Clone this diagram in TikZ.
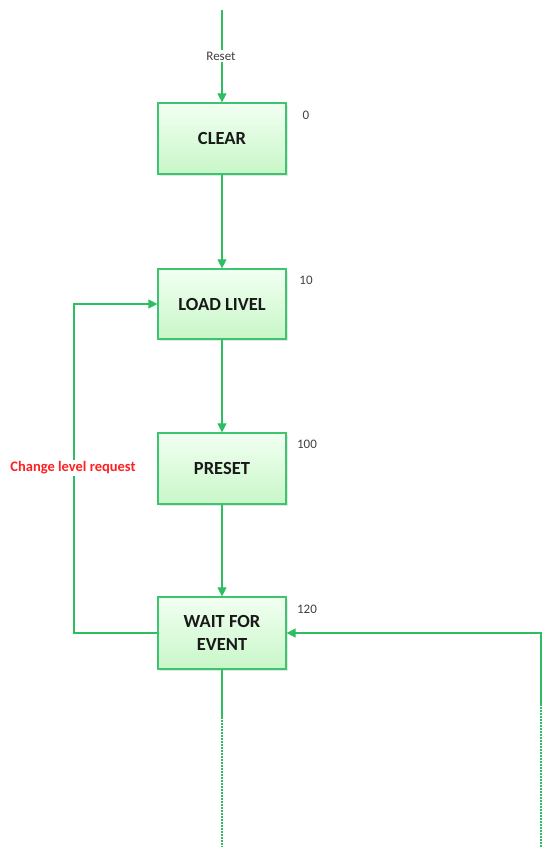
\documentclass[tikz,border=0pt]{standalone}
\usepackage{fontspec}
\setmainfont{Carlito}
\usetikzlibrary{arrows.meta,shadows}
\definecolor{lg}{HTML}{2EBE62}
\definecolor{bordg}{HTML}{3CC46E}
\definecolor{topf}{HTML}{F2FFF2}
\definecolor{botf}{HTML}{C8F7C8}
\definecolor{redl}{HTML}{FF2020}
\tikzset{
  state/.style={draw=bordg, line width=1.2pt, minimum width=128pt, minimum height=71pt,
    top color=topf, bottom color=botf, font=\fontsize{18.5}{22}\selectfont\bfseries,
    align=center, text=black!90,
    drop shadow={shadow xshift=1.5pt, shadow yshift=-1.5pt, opacity=0.25, fill=black!40}},
  conn/.style={draw=lg, line width=1.1pt},
  arr/.style={conn, -{Triangle[length=9pt,width=9pt]}},
  dots/.style={draw=lg, line width=1.1pt, dash pattern=on 1.5pt off 1.5pt},
  num/.style={font=\fontsize{13}{15}\selectfont, text=black!75, inner sep=0pt},
}
\begin{document}
\begin{tikzpicture}[x=1pt,y=-1pt]
\useasboundingbox (0,0) rectangle (542,847);
\node[state] (clear) at (222,138.5) {CLEAR};
\node[state, minimum height=70pt] (load) at (222,304) {LOAD LIVEL};
\node[state] (preset) at (222,468.5) {PRESET};
\node[state, minimum height=72pt] (wait) at (222,633) {WAIT FOR\\[1pt]EVENT};
\node[num] (n0) at (306,115) {0};
\node[num] (n10) at (306,280) {10};
\node[num] (n100) at (307,444) {100};
\node[num] (n120) at (307,609) {120};
\coordinate (top) at (222,10);
\node[font=\fontsize{13}{15}\selectfont, text=black!75, fill=white, inner sep=2pt] (reset) at (221,56) {Reset};
\draw[conn] (top) -- (reset.north -| top);
\draw[arr] (reset.south -| top) -- (clear.north);
\draw[arr] (clear) -- (load);
\draw[arr] (load) -- (preset);
\draw[arr] (preset) -- (wait);
\coordinate (lb) at (74,633);
\coordinate (lt) at (74,304);
\draw[arr] (wait.west) -- (lb) -- (lt) -- (load.west);
\node[font=\fontsize{14.5}{16}\selectfont\bfseries, text=redl, fill=white, inner sep=1.5pt] (chg) at (73,468) {Change level request};
\coordinate (rr) at (541,633);
\coordinate (rs) at (541,704);
\coordinate (rb) at (541,847);
\draw[arr] (rs) -- (rr) -- (wait.east);
\draw[dots] (rs) -- (rb);
\coordinate (ws) at (222,717);
\coordinate (wb) at (222,847);
\draw[conn] (wait.south) -- (ws);
\draw[dots] (ws) -- (wb);
\end{tikzpicture}
\end{document}
